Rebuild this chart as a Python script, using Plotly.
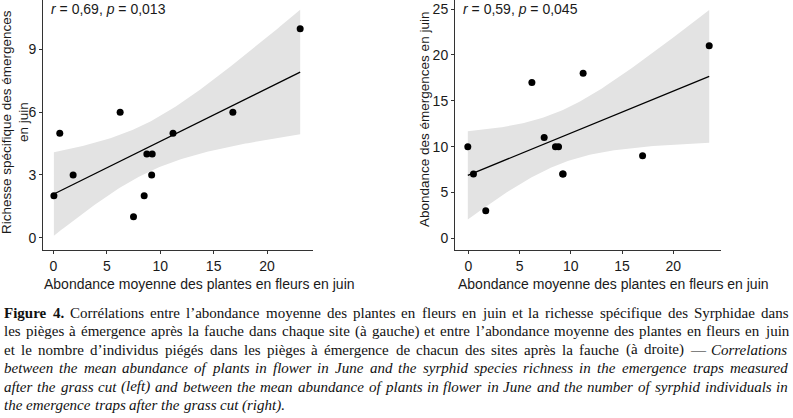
import numpy as np
import plotly.graph_objects as go

# ---- data ----
plants_left = [23.1, 6.25, 0.6, 11.2, 16.8, 8.75, 9.25, 1.85, 9.2, 0.05, 8.5, 7.5]
richness = [10, 6, 5, 5, 6, 4, 4, 3, 3, 2, 2, 1]
plants_right = [23.5, 6.2, 11.2, 7.4, 8.5, 8.8, -0.05, 0.5, 9.25, 17.0, 1.7, 9.2]
abundance = [21, 17, 18, 11, 10, 10, 10, 7, 7, 9, 3, 7]
x_ticks = [0, 5, 10, 15, 20]
y_ticks_left = [0, 3, 6, 9]
y_ticks_right = [0, 5, 10, 15, 20, 25]
stat_left = "<i>r</i> = 0,69, <i>p</i> = 0,013"
stat_right = "<i>r</i> = 0,59, <i>p</i> = 0,045"
x_title = "Abondance moyenne des plantes en fleurs en juin"
y_title_left_1 = "Richesse spécifique des émergences"
y_title_left_2 = "en juin"
y_title_right = "Abondance des émergences en juin"
# caption: each line is a list of (style, text) runs; style r=roman, i=italic, b=bold
caption_lines = [
    [("b", "Figure 4."), ("r", "Corrélations entre l’abondance moyenne des plantes en fleurs en juin et la richesse spécifique des Syrphidae dans")],
    [("r", "les pièges à émergence après la fauche dans chaque site (à gauche) et entre l’abondance moyenne des plantes en fleurs en juin")],
    [("r", "et le nombre d’individus piégés dans les pièges à émergence de chacun des sites après la fauche (à droite) —"), ("i", "Correlations")],
    [("i", "between the mean abundance of plants in flower in June and the syrphid species richness in the emergence traps measured")],
    [("i", "after the grass cut (left) and between the mean abundance of plants in flower in June and the number of syrphid individuals in")],
    [("i", "the emergence traps after the grass cut (right).")],
]
T_CRIT = 2.228  # t(0.975, df=10)

W, H = 793, 418

# approximate Times glyph widths (per 1000 em) for laying out the justified caption
ROMAN = dict(zip("abcdefghijklmnopqrstuvwxyz", [444, 500, 444, 500, 444, 333, 500, 500, 278, 278, 500, 278, 778,
                                               500, 500, 500, 500, 333, 389, 278, 500, 500, 722, 500, 500, 444]))
ROMAN.update({"é": 444, "è": 444, "à": 444, "’": 333, "—": 1000, "(": 333, ")": 333, ".": 250, ",": 250,
              "C": 667, "S": 556, "F": 556, "J": 389})
ITALIC = dict(zip("abcdefghijklmnopqrstuvwxyz", [500, 500, 444, 500, 444, 278, 500, 500, 278, 278, 444, 278, 722,
                                                500, 500, 500, 500, 389, 389, 278, 500, 444, 667, 444, 444, 389]))
ITALIC.update({"(": 333, ")": 333, ".": 250, ",": 250, "C": 667, "J": 444})
BOLD = dict(ROMAN)
BOLD.update({"F": 611, "i": 278, "g": 500, "u": 556, "r": 444, "e": 444, "4": 500, ".": 250})
TABLES = {"r": ROMAN, "i": ITALIC, "b": BOLD}
SPACE = 250


def word_width(style, w, size):
    tab = TABLES[style]
    return sum(tab.get(c, 500) for c in w) * size / 1000


def fit(x, y):
    x = np.asarray(x, float)
    y = np.asarray(y, float)
    n = len(x)
    b, a = np.polyfit(x, y, 1)
    res = y - (a + b * x)
    s = np.sqrt(np.sum(res ** 2) / (n - 2))
    xs = np.linspace(x.min(), x.max(), 100)
    sxx = np.sum((x - x.mean()) ** 2)
    se = s * np.sqrt(1 / n + (xs - x.mean()) ** 2 / sxx)
    yh = a + b * xs
    return xs, yh, yh - T_CRIT * se, yh + T_CRIT * se


fig = go.Figure()

for (xd, yd, xa, ya) in [(plants_left, richness, "x", "y"), (plants_right, abundance, "x2", "y2")]:
    xs, yh, lo, hi = fit(xd, yd)
    fig.add_trace(go.Scatter(x=np.concatenate([xs, xs[::-1]]), y=np.concatenate([hi, lo[::-1]]),
                             fill="toself", fillcolor="#e3e3e3", line=dict(width=0),
                             hoverinfo="skip", xaxis=xa, yaxis=ya, mode="lines"))
    fig.add_trace(go.Scatter(x=xs, y=yh, mode="lines", line=dict(color="black", width=1.3),
                             xaxis=xa, yaxis=ya))
    fig.add_trace(go.Scatter(x=xd, y=yd, mode="markers", marker=dict(color="black", size=7),
                             xaxis=xa, yaxis=ya))

tickfont = dict(family="Liberation Sans", size=14, color="#1a1a1a")
common = dict(showgrid=False, zeroline=False, showline=True, linecolor="#333", linewidth=1,
              ticks="outside", ticklen=3, tickcolor="#333", tickfont=tickfont)

ydom = [1 - 250 / H, 1]
fig.update_layout(
    width=W, height=H, margin=dict(l=0, r=0, t=0, b=0),
    paper_bgcolor="white", plot_bgcolor="white", showlegend=False,
    xaxis=dict(domain=[43 / W, 313 / W], range=[-0.97, 24.3], tickvals=x_ticks, anchor="y", **common),
    yaxis=dict(domain=ydom, range=[-0.59, 11.37], tickvals=y_ticks_left, anchor="x", **common),
    xaxis2=dict(domain=[455 / W, 721 / W], range=[-1.3, 24.65], tickvals=x_ticks, anchor="y2", **common),
    yaxis2=dict(domain=ydom, range=[-1.28, 26.0], tickvals=y_ticks_right, anchor="x2", **common),
)

xfont = dict(family="Liberation Sans", size=14, color="#1a1a1a")
yfont = dict(family="Liberation Sans", size=13.5, color="#1a1a1a")
serif = "Liberation Serif"


def px(x):
    return x / W


def py(y):
    return 1 - y / H


ann = [
    dict(text=stat_left, x=px(49), y=py(9), xanchor="left", yanchor="middle",
         font=dict(family="Liberation Sans", size=14, color="#1a1a1a")),
    dict(text=stat_right, x=px(461), y=py(9), xanchor="left", yanchor="middle",
         font=dict(family="Liberation Sans", size=14, color="#1a1a1a")),
    dict(text=x_title, x=px(199), y=py(284), xanchor="center", yanchor="middle", font=xfont),
    dict(text=x_title, x=px(613), y=py(284), xanchor="center", yanchor="middle", font=xfont),
    dict(text=y_title_left_1, x=px(6), y=py(122), xanchor="center", yanchor="middle",
         textangle=-90, font=yfont),
    dict(text=y_title_left_2, x=px(23), y=py(122), xanchor="center", yanchor="middle",
         textangle=-90, font=yfont),
    dict(text=y_title_right, x=px(425), y=py(120), xanchor="center", yanchor="middle",
         textangle=-90, font=yfont),
]

CAP_SIZE = 15
X0, X1 = 3, 787
line_y = [312.5, 331, 349.5, 368, 386.5, 405]
for li, (runs, yy) in enumerate(zip(caption_lines, line_y)):
    words = []
    for style, txt in runs:
        for w in txt.split(" "):
            words.append((style, w))
    widths = [word_width(s, w, CAP_SIZE) for s, w in words]
    if li < len(caption_lines) - 1:
        gap = (X1 - X0 - sum(widths)) / (len(words) - 1)
    else:
        gap = SPACE * CAP_SIZE / 1000
    x = X0
    for (s, w), ww in zip(words, widths):
        txt = w if s == "r" else f"<{s}>{w}</{s}>"
        ann.append(dict(text=txt, x=px(x), y=py(yy), xanchor="left", yanchor="middle", borderpad=0,
                        font=dict(family=serif, size=CAP_SIZE, color="#111")))
        x += ww + gap

for a in ann:
    a.update(xref="paper", yref="paper", showarrow=False)
fig.update_layout(annotations=ann)

fig.write_html("out.html")
